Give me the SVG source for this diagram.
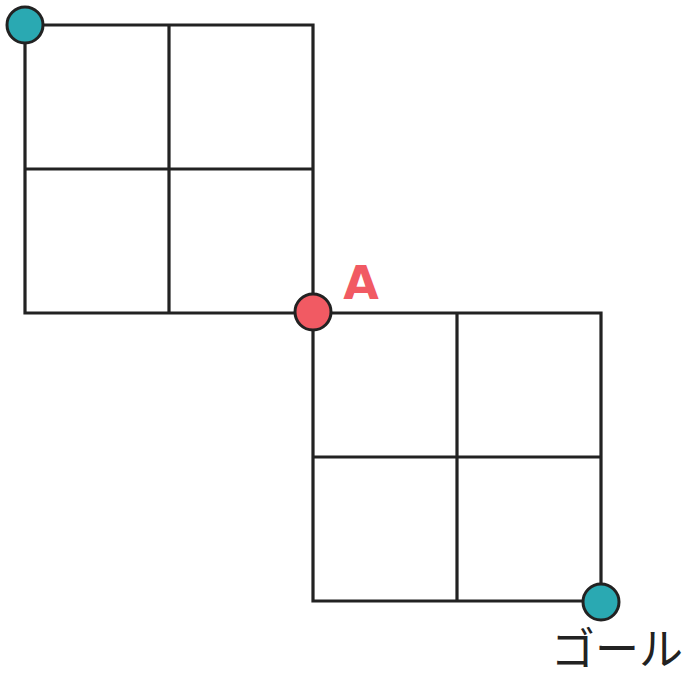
<svg xmlns="http://www.w3.org/2000/svg" width="687" height="675" viewBox="0 0 687 675">
<style>
.g{stroke:#222;stroke-width:3.2;fill:none;stroke-linecap:square}
.dot{stroke:#222;stroke-width:3}
</style>
<rect width="687" height="675" fill="#fff"/>
<g id="connectors">
<path class="g" d="M25 25H313V313H25Z M169 25V313 M25 169H313"/>
<path class="g" d="M313 313H601V601H313Z M457 313V601 M313 457H601"/>
</g>
<g id="start"><circle class="dot" cx="25" cy="25" r="18" fill="#2aa9b2"/></g>
<g id="A"><circle class="dot" cx="313" cy="312" r="18" fill="#f15a63"/>
<text x="361" y="299" font-family="DejaVu Sans, sans-serif" font-weight="bold" font-size="46" fill="#f15a63" text-anchor="middle">A</text></g>
<g id="goal"><circle class="dot" cx="601" cy="602" r="18" fill="#2aa9b2"/>
<text x="617" y="665" font-family="Noto Sans CJK JP, sans-serif" font-size="44" fill="#222" text-anchor="middle">ゴール</text></g>
</svg>
